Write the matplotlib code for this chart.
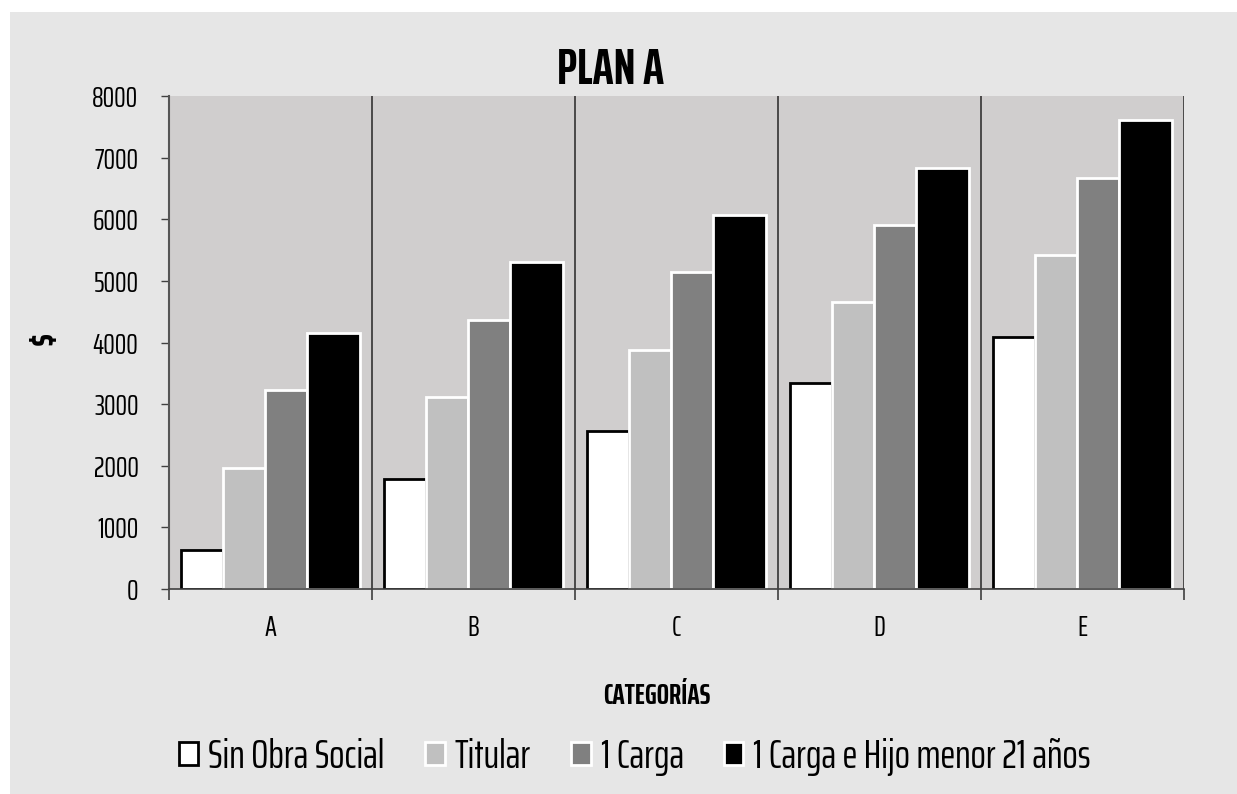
import matplotlib
matplotlib.use("Agg")
import matplotlib.pyplot as plt
from matplotlib.patches import Rectangle
import numpy as np

categories = ["A", "B", "C", "D", "E"]
series_names = ["Sin Obra Social", "Titular", "1 Carga", "1 Carga e Hijo menor 21 años"]
sin_obra_social = [640, 1786, 2564, 3338, 4094]
titular = [1959, 3111, 3878, 4652, 5420]
una_carga = [3225, 4370, 5139, 5907, 6674]
carga_hijo = [4156, 5306, 6074, 6837, 7610]
yticks = [0, 1000, 2000, 3000, 4000, 5000, 6000, 7000, 8000]

plt.rcParams['font.family'] = ['Saira ExtraCondensed', 'Roboto Condensed', 'DejaVu Sans']

W, H = 1237, 794
fig = plt.figure(figsize=(W / 100, H / 100), dpi=100, facecolor="white")
fig.patches.append(Rectangle((10 / W, 0), 1, 1 - 12 / H, transform=fig.transFigure,
                             facecolor="#e6e6e6", edgecolor="none", zorder=-10))

ax = fig.add_axes([169 / W, 1 - 589 / H, (1184 - 169) / W, (589 - 96) / H])
ax.set_facecolor("#d0cece")

series = [sin_obra_social, titular, una_carga, carga_hijo]
fills = ["#ffffff", "#c0c0c0", "#808080", "#000000"]
edges = ["#000000", "#ffffff", "#ffffff", "#ffffff"]
widths = [0.207, 0.207, 0.207, 0.261]
x = np.arange(len(categories))
left = -0.441
for vals, fc, ec, w, name in zip(series, fills, edges, widths, series_names):
    ax.bar(x + left, vals, width=w, align="edge", color=fc, edgecolor=ec,
           linewidth=2, label=name, zorder=3)
    left += w

ax.set_xlim(-0.5, len(categories) - 0.5)
ax.set_ylim(0, 8000)
ax.set_yticks(yticks)
ax.set_yticklabels([str(v) for v in yticks], fontsize=21)
ax.tick_params(axis="y", length=6, width=1, color="#404040", pad=16)

bounds = np.arange(len(categories) + 1) - 0.5
ax.set_xticks(bounds)
ax.set_xticklabels([""] * len(bounds))
ax.tick_params(axis="x", which="major", length=8, width=1.2, color="#404040")
ax.set_xticks(x, minor=True)
ax.set_xticklabels(categories, minor=True, fontsize=21)
ax.tick_params(axis="x", which="minor", length=0, pad=18)

for b in bounds[1:]:
    ax.axvline(b, color="#333333", lw=1.2, zorder=2)
for s in ["top", "right"]:
    ax.spines[s].set_visible(False)
ax.spines["left"].set_color("#555555")
ax.spines["left"].set_linewidth(1.5)
ax.spines["bottom"].set_color("#404040")
ax.spines["bottom"].set_linewidth(1.2)
ax.spines["bottom"].set_zorder(4)

fig.text(611 / W, 1 - 71 / H, "PLAN A", ha="center", va="center",
         fontsize=36, fontweight="bold")
fig.text(45 / W, 1 - 338 / H, "$", ha="center", va="center", rotation=90,
         fontsize=27, fontweight="bold")
fig.text(657 / W, 1 - 696 / H, "CATEGORÍAS", ha="center", va="center",
         fontsize=21, fontweight="bold")

handles, labels = ax.get_legend_handles_labels()
leg = fig.legend(handles, labels, loc="center", bbox_to_anchor=(635 / W, 1 - 757 / H),
                 ncol=4, frameon=False, fontsize=29, handlelength=0.48, handleheight=0.48,
                 handletextpad=0.25, columnspacing=1.0)

fig.savefig("out.png", dpi=100, facecolor=fig.get_facecolor())
